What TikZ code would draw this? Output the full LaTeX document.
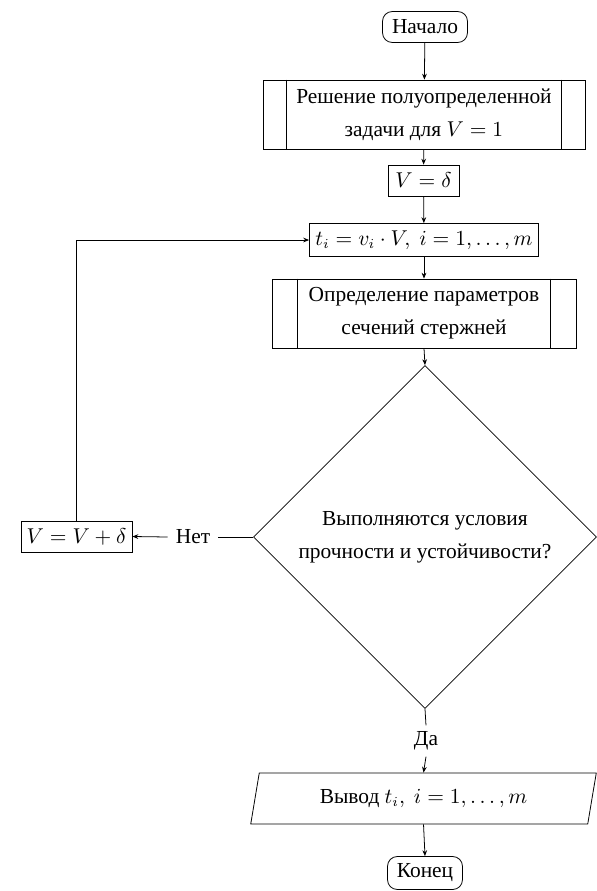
\documentclass[tikz,border=0pt]{standalone}
\usepackage[no-math]{fontspec}
\setmainfont{Liberation Serif}[Scale=1.04]
\usetikzlibrary{shapes.geometric,arrows.meta}
\def\u{0.51pt}
\tikzset{
  arr/.style={-{Stealth[length=3pt,width=2.4pt]}},
  term/.style={draw, rounded corners=5pt, inner sep=0pt},
  proc/.style={draw, inner sep=0pt},
  sub/.style={draw, inner sep=0pt, align=center},
  lbl/.style={inner sep=4pt},
}
\begin{document}
\begin{tikzpicture}[x=\u, y=-\u, font=\fontsize{10.5}{12.5}\selectfont]
\useasboundingbox (0,0) rectangle (597,891);
\node[term, minimum width=85*\u, minimum height=31*\u] (start) at (425,27) {Начало};
\node[sub, minimum width=322*\u, minimum height=69*\u] (sub1) at (424,114.5)
  {Решение полуопределенной\\[4.5pt] задачи для $V=1$};
\draw ([xshift=24*\u]sub1.north west) -- ([xshift=24*\u]sub1.south west);
\draw ([xshift=-24*\u]sub1.north east) -- ([xshift=-24*\u]sub1.south east);
\node[proc, minimum width=71*\u, minimum height=31*\u] (v) at (423.5,180.5) {$V=\delta$};
\node[proc, minimum width=229*\u, minimum height=33*\u] (t) at (424,240) {$t_i=v_i\cdot V,\ i=1,\dots,m$};
\node[sub, minimum width=304*\u, minimum height=69*\u] (sub2) at (424,313.5)
  {Определение параметров\\[4.5pt] сечений стержней};
\draw ([xshift=26*\u]sub2.north west) -- ([xshift=26*\u]sub2.south west);
\draw ([xshift=-26*\u]sub2.north east) -- ([xshift=-26*\u]sub2.south east);
\node[draw, diamond, inner sep=0pt, align=center, minimum width=343*\u, minimum height=343*\u] (d) at (425,537)
  {Выполняются условия\\[4.5pt] прочности и устойчивости?};
\node[lbl] (no) at (193,537) {Нет};
\node[proc, minimum width=111*\u, minimum height=31*\u] (vv) at (76.5,536.5) {$V=V+\delta$};
\node[lbl, inner sep=3pt] (yes) at (426,741) {Да};
\node[draw, trapezium, trapezium left angle=73.6, trapezium right angle=106.4, trapezium stretches=true,
  inner sep=0pt, minimum width=346*\u, minimum height=51*\u] (out) at (423.5,798.5) {Вывод $t_i,\ i=1,\dots,m$};
\node[term, minimum width=75*\u, minimum height=33*\u] (end) at (425,873) {Конец};
\draw[arr] (start) -- (sub1);
\draw[arr] (sub1) -- (v);
\draw[arr] (v) -- (t);
\draw[arr] (t) -- (sub2);
\draw[arr] (sub2.south) -- (d.north);
\draw (d.west) -- (no.east);
\draw[arr] (no.west) -- (vv.east);
\draw[arr] (vv.north) |- (t.west);
\draw (d.south) -- (yes.north);
\draw[arr] (yes.south) -- (out.north);
\draw[arr] (out.south) -- (end.north);
\end{tikzpicture}
\end{document}
